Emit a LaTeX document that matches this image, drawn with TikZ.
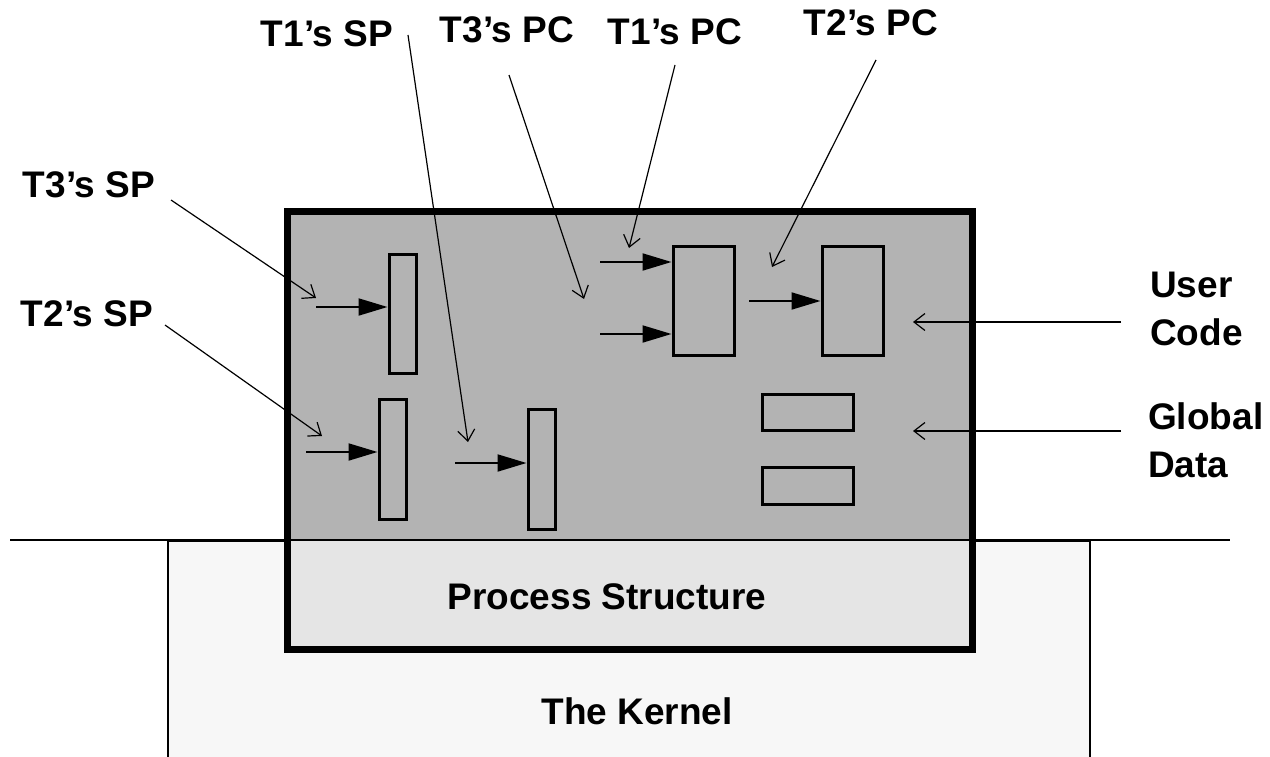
\documentclass[tikz,border=0pt]{standalone}
\usepackage{fontspec}
\setmainfont{Liberation Sans}
\usetikzlibrary{arrows.meta}
\definecolor{procgray}{HTML}{B3B3B3}
\definecolor{structgray}{HTML}{E5E5E5}
\definecolor{kernelgray}{HTML}{F7F7F7}
\tikzset{
  lbl/.style={font=\fontsize{37}{48}\selectfont\bfseries, inner sep=0pt, align=left},
  ptr/.style={line width=1.2pt, -{Straight Barb[length=11pt,width=17pt,line width=1.2pt]}},
  fat/.style={line width=2pt, -{Triangle[length=29pt,width=17pt]}},
  blk/.style={draw, line width=3pt, fill=procgray, inner sep=0pt},
}
\begin{document}
\begin{tikzpicture}[x=1pt,y=-1pt]
\useasboundingbox (0,0) rectangle (1270,757);
\begin{scope}
\clip (0,0) rectangle (1270,757);
% kernel
\draw[line width=1.5pt, fill=kernelgray] (168,541) rectangle (1090,790);
\end{scope}
% process box fills
\fill[procgray] (287,212) rectangle (972,541);
\fill[structgray] (287,541) rectangle (972,649);
% horizontal boundary
\coordinate (hl) at (10,540);
\coordinate (hr) at (1230,540);
\draw[line width=2.5pt] (hl) -- (hr);
% process outline
\draw[line width=7pt] (287,212) rectangle (972,649);
\node[lbl] (ps) at (607,597) {Process Structure};
\node[lbl] (kern) at (637,711) {The Kernel};

% stacks and code blocks
\node[blk, minimum width=27pt, minimum height=119pt] (A) at (402.5,313.5) {};
\node[blk, minimum width=27pt, minimum height=120pt] (B) at (392.5,459) {};
\node[blk, minimum width=27pt, minimum height=120pt] (C) at (541.5,469) {};
\node[blk, minimum width=61pt, minimum height=109pt] (D) at (703.5,300.5) {};
\node[blk, minimum width=61pt, minimum height=109pt] (E) at (852.5,300.5) {};
\node[blk, minimum width=91pt, minimum height=36pt] (F) at (807.5,412) {};
\node[blk, minimum width=91pt, minimum height=37pt] (G) at (807.5,485.5) {};

% filled arrows
\coordinate (a1) at (316,307);
\coordinate (b1) at (306,452);
\coordinate (c1) at (455,463);
\coordinate (d1) at (600,262);
\coordinate (d2) at (600,334);
\coordinate (e1) at (749,301);
\draw[fat] (a1) -- (a1 -| A.west);
\draw[fat] (b1) -- (b1 -| B.west);
\draw[fat] (c1) -- (c1 -| C.west);
\draw[fat] (d1) -- (d1 -| D.west);
\draw[fat] (d2) -- (d2 -| D.west);
\draw[fat] (e1) -- (e1 -| E.west);

% labels
\node[lbl] (t1sp) at (327,34) {T1’s SP};
\node[lbl] (t3pc) at (507,30) {T3’s PC};
\node[lbl] (t1pc) at (675,32) {T1’s PC};
\node[lbl] (t2pc) at (871,23) {T2’s PC};
\node[lbl] (t3sp) at (89,185) {T3’s SP};
\node[lbl] (t2sp) at (87,314) {T2’s SP};
\node[lbl, anchor=west] (uc) at (1150,309) {User\\Code};
\node[lbl, anchor=west] (gd) at (1148,440) {Global\\Data};

% pointer arrows
\coordinate (s1) at (408,35);   \coordinate (e1p) at (468,442);
\coordinate (s2) at (509,75);   \coordinate (e2p) at (584,299);
\coordinate (s3) at (675,65);   \coordinate (e3p) at (629,248);
\coordinate (s4) at (876,60);   \coordinate (e4p) at (772,267);
\coordinate (s5) at (171,200);  \coordinate (e5p) at (316,298);
\coordinate (s6) at (165,325);  \coordinate (e6p) at (322,436);
\coordinate (s7) at (1121,322); \coordinate (e7p) at (913,322);
\coordinate (s8) at (1121,431); \coordinate (e8p) at (913,431);
\draw[ptr] (s1) -- (e1p);
\draw[ptr] (s2) -- (e2p);
\draw[ptr] (s3) -- (e3p);
\draw[ptr] (s4) -- (e4p);
\draw[ptr] (s5) -- (e5p);
\draw[ptr] (s6) -- (e6p);
\draw[ptr] (s7) -- (e7p);
\draw[ptr] (s8) -- (e8p);
\end{tikzpicture}
\end{document}
